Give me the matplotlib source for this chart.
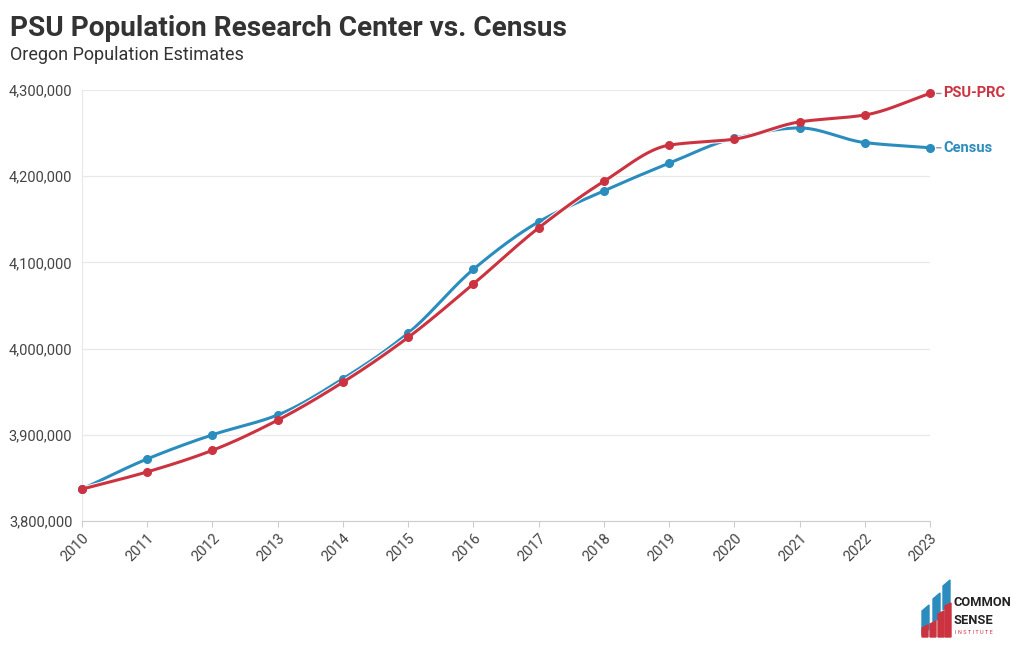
import numpy as np
import matplotlib
matplotlib.use('agg')
import matplotlib.pyplot as plt
import matplotlib.patheffects as pe
from matplotlib.patches import Polygon

plt.rcParams['font.family'] = ['Roboto', 'DejaVu Sans']

years = list(range(2010, 2024))
census = [3837000, 3872000, 3900000, 3923000, 3965000, 4018000, 4092000,
          4147000, 4183000, 4215000, 4244000, 4256000, 4239000, 4233000]
psu_prc = [3837000, 3857000, 3882000, 3917000, 3961000, 4013000, 4075000,
           4140000, 4194000, 4236000, 4243000, 4263000, 4271000, 4296000]
yticks = [3800000, 3900000, 4000000, 4100000, 4200000, 4300000]

RED = '#cc3340'
BLUE = '#2b8cbe'


def smooth(x, y, n=30):
    # monotone cubic (Fritsch-Carlson) just for drawing the curve
    x = np.asarray(x, float)
    y = np.asarray(y, float)
    h = np.diff(x)
    d = np.diff(y) / h
    m = np.zeros_like(y)
    m[0], m[-1] = d[0], d[-1]
    for i in range(1, len(y) - 1):
        if d[i - 1] * d[i] <= 0:
            m[i] = 0
        else:
            w1 = 2 * h[i] + h[i - 1]
            w2 = h[i] + 2 * h[i - 1]
            m[i] = (w1 + w2) / (w1 / d[i - 1] + w2 / d[i])
    xs, ys = [], []
    for i in range(len(x) - 1):
        t = np.linspace(0, 1, n, endpoint=False)
        h00 = 2 * t**3 - 3 * t**2 + 1
        h10 = t**3 - 2 * t**2 + t
        h01 = -2 * t**3 + 3 * t**2
        h11 = t**3 - t**2
        xs.append(x[i] + t * h[i])
        ys.append(h00 * y[i] + h10 * h[i] * m[i] + h01 * y[i + 1] + h11 * h[i] * m[i + 1])
    xs.append([x[-1]])
    ys.append([y[-1]])
    return np.concatenate(xs), np.concatenate(ys)


fig = plt.figure(figsize=(10.2, 6.5), dpi=100)
ax = fig.add_axes([82 / 1020, 1 - 521 / 650, 848 / 1020, 431 / 650])

halo = [pe.Stroke(linewidth=3.6, foreground='white'), pe.Normal()]
for vals, col, z in [(census, BLUE, 3), (psu_prc, RED, 4)]:
    sx, sy = smooth(years, vals)
    ax.plot(sx, sy, color=col, lw=2.2, zorder=z, clip_on=False, path_effects=halo)
    ax.plot(years, vals, 'o', color=col, ms=5.5, zorder=z, clip_on=False)

ax.set_xlim(2010, 2023)
ax.set_ylim(3800000, 4300000)
ax.set_yticks(yticks)
ax.set_yticklabels([f'{v:,}' for v in yticks])
ax.set_xticks(years)
ax.set_xticklabels([str(y) for y in years], rotation=45, ha='right', rotation_mode='anchor')
ax.tick_params(axis='y', length=0, pad=7, labelsize=10.5, labelcolor='#444444')
ax.tick_params(axis='x', length=4, color='#cccccc', pad=3, labelsize=10.5, labelcolor='#444444')
ax.grid(axis='y', color='#e8e8e8', lw=0.9)
ax.set_axisbelow(True)
for s in ['top', 'right']:
    ax.spines[s].set_visible(False)
ax.spines['left'].set_color('#e8e8e8')
ax.spines['bottom'].set_color('#cccccc')

# end labels
for vals, name, col in [(psu_prc, 'PSU-PRC', RED), (census, 'Census', BLUE)]:
    ax.annotate('', xy=(2023.1, vals[-1]), xytext=(2023.17, vals[-1]),
                annotation_clip=False,
                arrowprops=dict(arrowstyle='-', color='#999999', lw=1.0,
                                shrinkA=0, shrinkB=0))
    ax.text(2023.2, vals[-1], name, color=col, fontsize=10.5, fontweight='bold',
            va='center', ha='left', clip_on=False)

fig.text(10 / 1020, 1 - 28 / 650, 'PSU Population Research Center vs. Census',
         fontsize=20.2, fontweight='bold', color='#333333', va='center')
fig.text(10 / 1020, 1 - 55 / 650, 'Oregon Population Estimates',
         fontsize=13, color='#333333', va='center')

# logo (rough)
def px(x, y):
    return (x / 1020, 1 - y / 650)

for xs0, top, col in [(922, 605, BLUE), (933, 593, BLUE), (943, 580, BLUE)]:
    fig.add_artist(Polygon([px(xs0, top + 6), px(xs0 + 7, top), px(xs0 + 7, top + 24),
                            px(xs0, top + 30)], closed=True, color=col, transform=fig.transFigure))
for xs0, top in [(922, 628), (930, 624), (938, 614), (945, 606)]:
    fig.add_artist(Polygon([px(xs0, top), px(xs0 + 6, top - 3), px(xs0 + 6, 637), px(xs0, 637)],
                           closed=True, color=RED, transform=fig.transFigure))
fig.text(px(954, 603)[0], px(954, 603)[1], 'COMMON', fontsize=9.3, fontweight='bold',
         color='#222222', va='center')
fig.text(px(954, 620)[0], px(954, 620)[1], 'SENSE', fontsize=9.3, fontweight='bold',
         color='#222222', va='center')
fig.text(px(955, 633)[0], px(955, 633)[1], 'I N S T I T U T E', fontsize=4,
         color=RED, va='center')

fig.savefig('out.png', dpi=100, facecolor='white')
